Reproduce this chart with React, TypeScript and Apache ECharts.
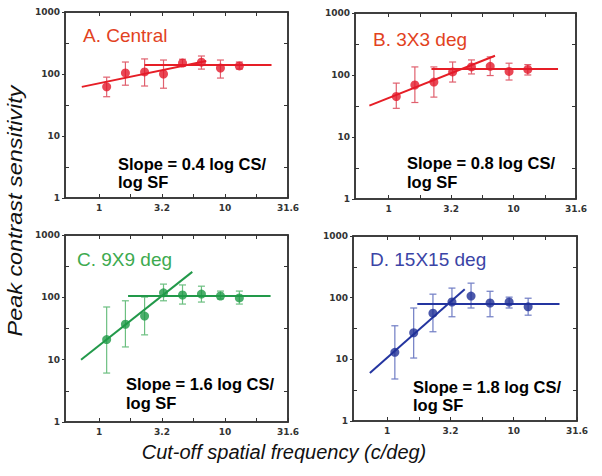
import React, { useEffect, useRef } from 'react';
import * as echarts from 'echarts';

// Spatial frequencies (c/deg) of the data points, shared by all panels
const freqs = [1.15, 1.62, 2.3, 3.25, 4.6, 6.5, 9.2, 13];

// Panel A. Central
const csA = [62, 104, 108, 100, 150, 155, 125, 135];
const hiA = [89, 156, 175, 168, 173, 195, 168, 156];
const loA = [43, 66, 64, 59, 134, 120, 86, 120];
const slopeLineA = [[0.73, 62], [7.1, 162]];
const flatLineA = [[2.3, 140], [23.4, 140]];

// Panel B. 3X3 deg
const csB = [45, 69, 77, 112, 135, 138, 114, 123];
const hiB = [74, 135, 135, 162, 175, 196, 155, 147];
const loB = [29, 36, 44, 77, 104, 98, 83, 100];
const slopeLineB = [[0.7, 32], [7.1, 204]];
const flatLineB = [[2.2, 125], [22.7, 125]];

// Panel C. 9X9 deg
const csC = [21, 37, 50, 118, 109, 113, 105, 98];
const hiC = [70, 88, 101, 163, 158, 151, 126, 126];
const loC = [6.1, 16, 25, 88, 78, 84, 94, 78];
const slopeLineC = [[0.72, 10], [5.5, 256]];
const flatLineC = [[1.7, 105], [23, 105]];

// Panel D. 15X15 deg
const csD = [13, 27, 56, 85, 106, 82, 85, 71];
const hiD = [35, 68, 114, 143, 172, 127, 102, 98];
const loD = [4.8, 10.5, 28, 49, 68, 49, 68, 52];
const slopeLineD = [[0.73, 6], [4.1, 137]];
const flatLineD = [[1.73, 79], [23, 79]];

const panelTitles = ['A. Central', 'B. 3X3 deg', 'C. 9X9 deg', 'D. 15X15 deg'];
const slopeTexts = ['Slope = 0.4 log CS/', 'Slope = 0.8 log CS/', 'Slope = 1.6 log CS/', 'Slope = 1.8 log CS/'];
const slopeText2 = 'log SF';

// tick labels (axes are drawn in log10 units)
const xTickValues = [1, 3.162, 10, 31.62];
const xTickLabels = ['1', '3.2', '10', '31.6'];
const yTickValues = [1, 10, 100, 1000];
const yTickLabels = ['1', '10', '100', '1000'];
const yHalfTicks = [3.162, 31.62, 316.2];
const xQuarterTicks = [1, 1.778, 3.162, 5.623, 10, 17.78, 31.62];

const xTitle = 'Cut-off spatial frequency (c/deg)';
const yTitle = 'Peak contrast sensitivity';

const L = (v: number) => Math.log10(v);

const panels = [
  { cs: csA, hi: hiA, lo: loA, slope: slopeLineA, flat: flatLineA },
  { cs: csB, hi: hiB, lo: loB, slope: slopeLineB, flat: flatLineB },
  { cs: csC, hi: hiC, lo: loC, slope: slopeLineC, flat: flatLineC },
  { cs: csD, hi: hiD, lo: loD, slope: slopeLineD, flat: flatLineD },
];

const styles = [
  { title: '#e2421e', point: '#e3192b', line: '#e61e26', err: '#e0606e' },
  { title: '#e2421e', point: '#e3192b', line: '#e61e26', err: '#e0606e' },
  { title: '#3daa4f', point: '#1e9a46', line: '#22994a', err: '#6cbf80' },
  { title: '#3b44a6', point: '#1f2f96', line: '#2435a0', err: '#6f7cc4' },
];

const grids = [
  { left: 65, top: 12, width: 223, height: 186 },
  { left: 355, top: 13, width: 221, height: 186 },
  { left: 65, top: 235, width: 223, height: 187 },
  { left: 353, top: 236, width: 224, height: 185 },
];

const titlePos = [
  [83, 35], [373, 39], [77, 259], [370, 259],
];
const slopePos = [
  [118, 164, 182], [407, 163, 182], [126, 384, 403], [413, 387, 405],
];

const X_MIN = -0.27;
const X_MAX = 1.5;
const AX = '#333';
const labelFont = { fontFamily: 'DejaVu Sans', fontWeight: 'bold' as const, fontSize: 9, color: '#333' };

function nearestLabel(v: number, vals: number[], labels: string[]) {
  let best = 0;
  let bd = Infinity;
  vals.forEach((t, i) => {
    const d = Math.abs(L(t) - v);
    if (d < bd) { bd = d; best = i; }
  });
  return labels[best];
}

function buildOption() {
  const xAxis: any[] = [];
  const yAxis: any[] = [];
  const series: any[] = [];
  const graphic: any[] = [];

  panels.forEach((p, i) => {
    const st = styles[i];
    // bottom x axis
    xAxis.push({
      gridIndex: i, type: 'value', min: X_MIN, max: X_MAX, position: 'bottom',
      axisLine: { show: true, onZero: false, lineStyle: { color: AX, width: 1.5 } },
      axisTick: { show: true, inside: true, length: 4, customValues: xQuarterTicks.map(L), lineStyle: { color: AX } },
      axisLabel: {
        customValues: xTickValues.map(L), margin: 5, ...labelFont,
        formatter: (v: number) => nearestLabel(v, xTickValues, xTickLabels),
      },
      splitLine: { show: false },
    });
    // top x axis
    xAxis.push({
      gridIndex: i, type: 'value', min: X_MIN, max: X_MAX, position: 'top',
      axisLine: { show: true, onZero: false, lineStyle: { color: AX, width: 1.5 } },
      axisTick: { show: true, inside: true, length: 4, customValues: xQuarterTicks.map(L), lineStyle: { color: AX } },
      axisLabel: { show: false },
      splitLine: { show: false },
    });
    // left y axis with labels
    yAxis.push({
      gridIndex: i, type: 'value', min: 0, max: 3, position: 'left',
      axisLine: { show: true, onZero: false, lineStyle: { color: AX, width: 1.5 } },
      axisTick: { show: true, inside: false, length: 3, customValues: yTickValues.map(L), lineStyle: { color: AX } },
      axisLabel: {
        customValues: yTickValues.map(L), margin: 5, ...labelFont,
        formatter: (v: number) => nearestLabel(v, yTickValues, yTickLabels),
      },
      splitLine: { show: false },
    });
    // left inner half-decade ticks
    yAxis.push({
      gridIndex: i, type: 'value', min: 0, max: 3, position: 'left',
      axisLine: { show: false, onZero: false },
      axisTick: { show: true, inside: true, length: 4, customValues: yHalfTicks.map(L), lineStyle: { color: AX } },
      axisLabel: { show: false },
      splitLine: { show: false },
    });
    // right axis
    yAxis.push({
      gridIndex: i, type: 'value', min: 0, max: 3, position: 'right',
      axisLine: { show: true, onZero: false, lineStyle: { color: AX, width: 1.5 } },
      axisTick: { show: true, inside: true, length: 4, customValues: yHalfTicks.map(L), lineStyle: { color: AX } },
      axisLabel: { show: false },
      splitLine: { show: false },
    });

    const xi = 2 * i;
    const yi = 3 * i;

    series.push({
      type: 'custom', xAxisIndex: xi, yAxisIndex: yi, z: 2,
      data: freqs.map((f, k) => [L(f), L(p.lo[k]), L(p.hi[k])]),
      encode: { x: 0, y: [1, 2] },
      renderItem: (_params: any, api: any) => {
        const x = api.value(0);
        const a = api.coord([x, api.value(1)]);
        const b = api.coord([x, api.value(2)]);
        const w = 3.5;
        const style = { stroke: st.err, lineWidth: 1.2 };
        return {
          type: 'group',
          children: [
            { type: 'line', shape: { x1: a[0], y1: a[1], x2: b[0], y2: b[1] }, style },
            { type: 'line', shape: { x1: a[0] - w, y1: a[1], x2: a[0] + w, y2: a[1] }, style },
            { type: 'line', shape: { x1: b[0] - w, y1: b[1], x2: b[0] + w, y2: b[1] }, style },
          ],
        };
      },
    });
    [p.slope, p.flat].forEach((ln) => {
      series.push({
        type: 'line', xAxisIndex: xi, yAxisIndex: yi, z: 3,
        data: ln.map(([x, y]) => [L(x), L(y)]),
        showSymbol: false, symbol: 'none',
        lineStyle: { color: st.line, width: 2 },
      });
    });
    series.push({
      type: 'scatter', xAxisIndex: xi, yAxisIndex: yi, z: 4,
      data: freqs.map((f, k) => [L(f), L(p.cs[k])]),
      symbol: 'circle', symbolSize: 9,
      itemStyle: { color: st.point },
    });

    graphic.push({
      type: 'text', x: titlePos[i][0], y: titlePos[i][1],
      style: {
        text: panelTitles[i], fill: st.title, fontSize: 19, fontFamily: 'Liberation Sans',
        textAlign: 'left', textVerticalAlign: 'middle',
      },
    });
    graphic.push({
      type: 'text', x: slopePos[i][0], y: slopePos[i][1],
      style: {
        text: slopeTexts[i], fill: '#000', fontSize: 16.5, fontWeight: 'bold', fontFamily: 'Liberation Sans',
        textAlign: 'left', textVerticalAlign: 'middle',
      },
    });
    graphic.push({
      type: 'text', x: slopePos[i][0], y: slopePos[i][2],
      style: {
        text: slopeText2, fill: '#000', fontSize: 16.5, fontWeight: 'bold', fontFamily: 'Liberation Sans',
        textAlign: 'left', textVerticalAlign: 'middle',
      },
    });
  });

  graphic.push({
    type: 'text', x: 284, y: 452,
    style: {
      text: xTitle, fill: '#111', fontSize: 20, fontStyle: 'italic', fontFamily: 'Liberation Sans',
      textAlign: 'center', textVerticalAlign: 'middle',
    },
  });
  graphic.push({
    type: 'text', x: 15, y: 211, rotation: Math.PI / 2, scaleX: 1.17,
    style: {
      text: yTitle, fill: '#111', fontSize: 20, fontStyle: 'italic', fontFamily: 'Liberation Sans',
      textAlign: 'center', textVerticalAlign: 'middle',
    },
  });

  return {
    animation: false,
    backgroundColor: '#fff',
    grid: grids.map((g) => ({ ...g, show: true, borderColor: AX, borderWidth: 1.5, backgroundColor: 'transparent' })),
    xAxis,
    yAxis,
    series,
    graphic,
  };
}

export default function App() {
  const ref = useRef<HTMLDivElement>(null);
  useEffect(() => {
    if (!ref.current) return;
    const chart = echarts.init(ref.current, undefined, { renderer: 'svg' });
    chart.setOption(buildOption() as any);
    return () => chart.dispose();
  }, []);
  return (
    <div
      ref={ref}
      style={{ position: 'fixed', left: 0, top: 0, width: 602, height: 476, background: '#fff' }}
    />
  );
}
